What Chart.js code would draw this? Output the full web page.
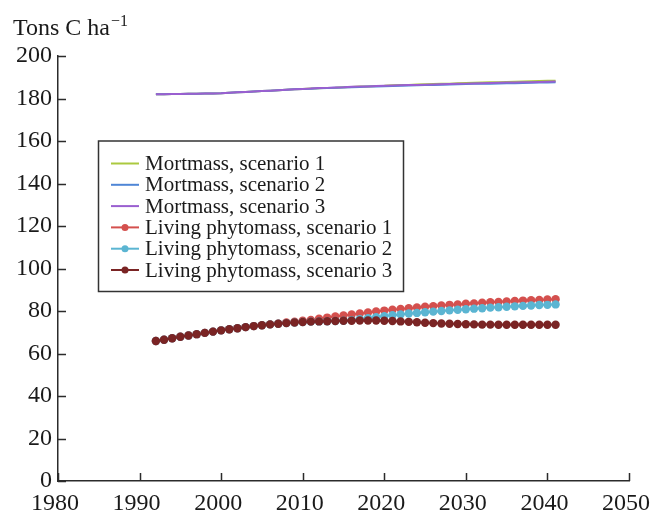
<!DOCTYPE html>
<html>
<head>
<meta charset="utf-8">
<script src="https://cdn.jsdelivr.net/npm/chart.js@4.4.0/dist/chart.umd.min.js"></script>
<style>
  html, body { margin: 0; padding: 0; background: #fff; }
  #wrap { width: 651px; height: 512px; }
</style>
</head>
<body>
<div id="wrap"><canvas id="carbon_chart" width="651" height="512"></canvas></div>
<script>
// years of the model run
let years = [1992, 1993, 1994, 1995, 1996, 1997, 1998, 1999, 2000, 2001,
             2002, 2003, 2004, 2005, 2006, 2007, 2008, 2009, 2010, 2011,
             2012, 2013, 2014, 2015, 2016, 2017, 2018, 2019, 2020, 2021,
             2022, 2023, 2024, 2025, 2026, 2027, 2028, 2029, 2030, 2031,
             2032, 2033, 2034, 2035, 2036, 2037, 2038, 2039, 2040, 2041]

let mortmass1 = [182.0, 182.0, 182.1, 182.1, 182.2, 182.2, 182.3, 182.4, 182.5, 182.7,
                 182.9, 183.1, 183.3, 183.5, 183.7, 183.9, 184.1, 184.3, 184.5, 184.7,
                 184.8, 185.0, 185.1, 185.3, 185.4, 185.6, 185.7, 185.9, 186.0, 186.2,
                 186.3, 186.4, 186.6, 186.7, 186.8, 186.9, 187.0, 187.2, 187.3, 187.4,
                 187.5, 187.6, 187.7, 187.8, 187.9, 188.0, 188.1, 188.2, 188.3, 188.4]
let mortmass2 = [182.0, 182.0, 182.1, 182.1, 182.2, 182.2, 182.3, 182.4, 182.5, 182.7,
                 182.9, 183.1, 183.3, 183.5, 183.7, 183.9, 184.1, 184.3, 184.5, 184.6,
                 184.8, 184.9, 185.1, 185.2, 185.3, 185.4, 185.6, 185.7, 185.8, 185.9,
                 186.0, 186.1, 186.2, 186.3, 186.4, 186.5, 186.6, 186.7, 186.8, 186.9,
                 187.0, 187.0, 187.1, 187.2, 187.2, 187.3, 187.4, 187.5, 187.5, 187.6]
let mortmass3 = [182.0, 182.0, 182.1, 182.1, 182.2, 182.2, 182.3, 182.4, 182.5, 182.7,
                 182.9, 183.1, 183.3, 183.5, 183.7, 183.9, 184.1, 184.3, 184.5, 184.7,
                 184.9, 185.0, 185.2, 185.3, 185.5, 185.6, 185.7, 185.9, 186.0, 186.1,
                 186.2, 186.3, 186.4, 186.5, 186.6, 186.7, 186.8, 186.9, 187.0, 187.1,
                 187.2, 187.3, 187.4, 187.5, 187.5, 187.6, 187.7, 187.8, 187.9, 188.0]

let phyto1 = [65.9, 66.5, 67.2, 67.9, 68.5, 69.1, 69.7, 70.3, 70.9, 71.4,
              71.9, 72.4, 72.9, 73.3, 73.7, 74.0, 74.6, 75.0, 75.4, 75.8,
              76.4, 76.9, 77.4, 77.9, 78.4, 78.8, 79.3, 79.8, 80.2, 80.6,
              81.0, 81.3, 81.7, 82.0, 82.3, 82.6, 82.9, 83.1, 83.4, 83.6,
              83.9, 84.1, 84.3, 84.5, 84.7, 84.9, 85.1, 85.2, 85.4, 85.5]
let phyto2 = [65.9, 66.5, 67.2, 67.9, 68.5, 69.1, 69.7, 70.3, 70.9, 71.4,
              71.9, 72.4, 72.9, 73.3, 73.7, 74.0, 74.3, 74.6, 74.8, 75.0,
              75.1, 75.2, 75.3, 75.4, 75.7, 76.1, 76.6, 77.1, 77.6, 78.0,
              78.4, 78.8, 79.1, 79.4, 79.7, 80.0, 80.3, 80.6, 80.8, 81.1,
              81.3, 81.6, 81.8, 82.0, 82.2, 82.4, 82.6, 82.8, 82.9, 83.1]
let phyto3 = [65.9, 66.5, 67.2, 67.9, 68.5, 69.1, 69.7, 70.3, 70.9, 71.4,
              71.9, 72.4, 72.9, 73.3, 73.7, 74.0, 74.3, 74.6, 74.8, 75.0,
              75.1, 75.2, 75.3, 75.4, 75.4, 75.5, 75.5, 75.5, 75.4, 75.3,
              75.1, 74.9, 74.7, 74.5, 74.3, 74.1, 74.0, 73.9, 73.8, 73.7,
              73.6, 73.6, 73.5, 73.5, 73.5, 73.5, 73.5, 73.5, 73.5, 73.5]

let seriesNames = ['Mortmass, scenario 1', 'Mortmass, scenario 2', 'Mortmass, scenario 3',
                   'Living phytomass, scenario 1', 'Living phytomass, scenario 2', 'Living phytomass, scenario 3']
let seriesValues = [mortmass1, mortmass2, mortmass3, phyto1, phyto2, phyto3]
let seriesColors = ['#abc93f', '#4f86d6', '#9a5fd0', '#d4504e', '#5bb5d2', '#7a2424']

let yTicks = [0, 20, 40, 60, 80, 100, 120, 140, 160, 180, 200]
let xTicks = [1980, 1990, 2000, 2010, 2020, 2030, 2040, 2050]

const serif = 'Liberation Serif'
const axisColor = '#2b2b2b'

function buildDatasets() {
    let sets = []
    for (let i = 0; i < seriesNames.length; i++) {
        let withDots = i >= 3
        sets.push({
            label: seriesNames[i],
            data: years.map((yr, k) => ({x: yr, y: seriesValues[i][k]})),
            borderColor: seriesColors[i],
            backgroundColor: seriesColors[i],
            borderWidth: 2,
            pointRadius: withDots ? 4.2 : 0,
            pointBorderWidth: 0,
            pointBackgroundColor: seriesColors[i],
            tension: 0,
            order: 5 - i   // later series painted on top
        })
    }
    return sets
}

// y-axis caption with a superscript
const captionPlugin = {
    id: 'caption',
    afterDraw(chart) {
        let ctx = chart.ctx
        ctx.save()
        ctx.fillStyle = '#1a1a1a'
        ctx.textBaseline = 'alphabetic'
        ctx.textAlign = 'left'
        ctx.font = '24px "' + serif + '"'
        ctx.fillText('Tons C ha', 13, 35)
        let w = ctx.measureText('Tons C ha').width
        ctx.font = '16px "' + serif + '"'
        ctx.fillText('\u22121', 13 + w + 1, 26)
        ctx.restore()
    }
}

// short tick marks pointing into the plot
const innerTicksPlugin = {
    id: 'innerTicks',
    afterDraw(chart) {
        let ctx = chart.ctx
        let xs = chart.scales.x
        let ys = chart.scales.y
        let area = chart.chartArea
        ctx.save()
        ctx.strokeStyle = axisColor
        ctx.lineWidth = 1.5
        ctx.beginPath()
        xTicks.forEach(v => {
            let px = Math.round(xs.getPixelForValue(v)) + 0.5
            ctx.moveTo(px, area.bottom)
            ctx.lineTo(px, area.bottom - 8)
        })
        yTicks.forEach(v => {
            let py = Math.round(ys.getPixelForValue(v)) + 0.5
            ctx.moveTo(area.left, py)
            ctx.lineTo(area.left + 8, py)
        })
        ctx.stroke()
        ctx.restore()
    }
}

// boxed legend inside the plot
const boxLegendPlugin = {
    id: 'boxLegend',
    afterDraw(chart) {
        let ctx = chart.ctx
        let box = {left: 98.5, top: 141, right: 403.5, bottom: 291.5}
        ctx.save()
        ctx.fillStyle = '#fff'
        ctx.fillRect(box.left, box.top, box.right - box.left, box.bottom - box.top)
        ctx.strokeStyle = '#333'
        ctx.lineWidth = 1.5
        ctx.strokeRect(box.left, box.top, box.right - box.left, box.bottom - box.top)
        ctx.font = '21px "' + serif + '"'
        ctx.textBaseline = 'middle'
        ctx.textAlign = 'left'
        chart.data.datasets.forEach((ds, i) => {
            let cy = 163.5 + i * 21.3
            ctx.strokeStyle = ds.borderColor
            ctx.lineWidth = 2
            ctx.beginPath()
            ctx.moveTo(111, cy)
            ctx.lineTo(139, cy)
            ctx.stroke()
            if (ds.pointRadius > 0) {
                ctx.fillStyle = ds.borderColor
                ctx.beginPath()
                ctx.arc(125, cy, 3.5, 0, Math.PI * 2)
                ctx.fill()
            }
            ctx.fillStyle = '#1a1a1a'
            ctx.fillText(ds.label, 145, cy + 1)
        })
        ctx.restore()
    }
}

function Charting(id, config) {
    let ctx = document.getElementById(id).getContext('2d')
    return new Chart(ctx, config)
}

let chartConfig = {
    type: 'line',
    data: {datasets: buildDatasets()},
    options: {
        responsive: false,
        animation: false,
        devicePixelRatio: 1,
        layout: {padding: {top: 56, right: 22, left: 0, bottom: 0}},
        plugins: {legend: {display: false}, tooltip: {enabled: false}},
        scales: {
            x: {
                type: 'linear',
                min: 1980,
                max: 2050,
                afterBuildTicks: s => { s.ticks = xTicks.map(v => ({value: v})) },
                afterFit: s => { s.height = 31; s.paddingLeft = 0; s.paddingRight = 0 },
                grid: {display: false, drawTicks: false},
                border: {display: true, color: axisColor, width: 1.5},
                ticks: {
                    padding: 8,
                    labelOffset: -3,
                    maxRotation: 0,
                    color: '#1a1a1a',
                    font: {family: serif, size: 24},
                    callback: v => String(v)
                }
            },
            y: {
                min: 0,
                max: 200,
                afterBuildTicks: s => { s.ticks = yTicks.map(v => ({value: v})) },
                afterFit: s => { s.width = 58; s.paddingTop = 0; s.paddingBottom = 0 },
                grid: {display: false, drawTicks: false},
                border: {display: true, color: axisColor, width: 1.5},
                ticks: {
                    padding: 6,
                    color: '#1a1a1a',
                    font: {family: serif, size: 24},
                    callback: v => String(v)
                }
            }
        }
    },
    plugins: [innerTicksPlugin, boxLegendPlugin, captionPlugin]
}

Charting('carbon_chart', chartConfig)
</script>
</body>
</html>
